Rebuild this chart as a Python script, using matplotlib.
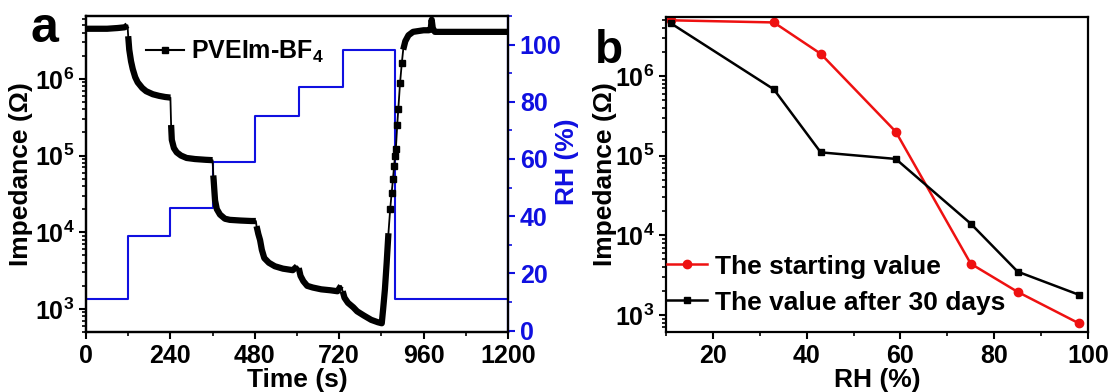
import numpy as np
import matplotlib
matplotlib.use('Agg')
import matplotlib.pyplot as plt
from matplotlib.lines import Line2D
from matplotlib.ticker import MultipleLocator, LogLocator

plt.rcParams['font.family'] = ['Liberation Sans', 'DejaVu Sans']
plt.rcParams['font.weight'] = 'bold'
plt.rcParams['mathtext.fontset'] = 'custom'
plt.rcParams['mathtext.rm'] = 'Liberation Sans:bold'
plt.rcParams['mathtext.bf'] = 'Liberation Sans:bold'
plt.rcParams['mathtext.default'] = 'bf'

# --- panel a: impedance response vs time, stepped RH ---
rh_time = [0, 120, 240, 360, 480, 605, 730, 880, 1200]
rh_level = [11, 33, 43, 59, 75, 85, 98, 11, 11]

seg_t = [
    [0, 30, 60, 90, 110, 118],
    [120, 123, 128, 133, 140, 147, 160, 171, 190, 208, 225, 240],
    [242, 244, 250, 258, 270, 286, 310, 340, 360],
    [362, 363, 365, 367, 372, 381, 395, 409, 440, 470, 483],
    [485, 490, 495, 500, 507, 520, 537, 560, 588, 600],
    [605, 610, 618, 629, 645, 669, 695, 715, 725],
    [730, 735, 745, 760, 771, 790, 811, 830, 841, 845, 850, 855, 860],
    [902, 908, 917, 930, 945, 960, 975, 980, 983, 986, 992, 1020, 1060, 1100, 1150, 1200],
]
seg_z = [
    [4.5e6, 4.5e6, 4.5e6, 4.6e6, 4.7e6, 5.0e6],
    [3.6e6, 2.4e6, 1.7e6, 1.34e6, 1.05e6, 9e5, 7.6e5, 6.9e5, 6.3e5, 6.0e5, 5.8e5, 5.7e5],
    [2.5e5, 1.6e5, 1.25e5, 1.1e5, 1.0e5, 9.3e4, 9.0e4, 8.8e4, 8.7e4],
    [5.5e4, 4.8e4, 3.5e4, 2.6e4, 2.0e4, 1.7e4, 1.5e4, 1.45e4, 1.42e4, 1.4e4, 1.4e4],
    [1.2e4, 9.5e3, 7.9e3, 5.9e3, 4.6e3, 4.0e3, 3.6e3, 3.35e3, 3.2e3, 3.6e3],
    [3.4e3, 2.7e3, 2.3e3, 2.0e3, 1.9e3, 1.8e3, 1.75e3, 1.7e3, 2.0e3],
    [1.7e3, 1.4e3, 1.2e3, 1.05e3, 930, 820, 720, 670, 650, 1.0e3, 1.8e3, 4.0e3, 9.7e3],
    [2.4e6, 3.1e6, 3.7e6, 4.1e6, 4.2e6, 4.3e6, 4.3e6, 4.4e6, 5.9e6, 4.6e6, 4.1e6, 4.1e6, 4.1e6, 4.1e6, 4.1e6, 4.1e6],
]
# sparse points on the recovery edge
rise_t = [865, 869, 873, 876, 879, 881, 885, 888, 893, 898]
rise_z = [2.0e4, 3.2e4, 5e4, 7.2e4, 1e5, 1.2e5, 2.5e5, 4e5, 8.8e5, 1.6e6]

# --- panel b: impedance vs RH, fresh and aged ---
rh = [11, 33, 43, 59, 75, 85, 98]
z_start = [5.0e6, 4.7e6, 1.9e6, 2.0e5, 4.4e3, 1.95e3, 7.9e2]
z_30days = [4.6e6, 6.8e5, 1.1e5, 9.1e4, 1.4e4, 3.5e3, 1.8e3]

W, H = 1113, 392
fig = plt.figure(figsize=(W / 100, H / 100), dpi=100)

ax1 = fig.add_axes([86 / W, 1 - 332 / H, (508 - 86) / W, (332 - 16) / H])
ax2 = ax1.twinx()
axb = fig.add_axes([666 / W, 1 - 332 / H, (1088 - 666) / W, (332 - 17) / H])

FS = 18
LFS = 19
BLUE = '#1010e0'

# black impedance trace: thin connector, thick dense runs, squares on the edge
all_t = sum(seg_t[:7], []) + rise_t + seg_t[7]
all_z = sum(seg_z[:7], []) + rise_z + seg_z[7]
ax1.plot(all_t, all_z, color='black', lw=1.3, zorder=3)
for t, z in zip(seg_t, seg_z):
    ax1.plot(t, z, color='black', lw=4.5, solid_capstyle='butt',
             solid_joinstyle='round', zorder=3)
ax1.plot(rise_t, rise_z, 's', color='black', ms=4, zorder=3)

ax1.set_yscale('log')
ax1.set_xlim(0, 1200)
ax1.set_ylim(500, 6.6e6)
ax1.xaxis.set_major_locator(MultipleLocator(240))
ax1.xaxis.set_minor_locator(MultipleLocator(120))
ax1.yaxis.set_major_locator(LogLocator(base=10, numticks=10))
ax1.yaxis.set_minor_locator(LogLocator(base=10, subs=np.arange(2, 10), numticks=20))
ax1.set_xlabel('Time (s)', fontsize=LFS, fontweight='bold', labelpad=0)
ax1.set_ylabel('Impedance (Ω)', fontsize=LFS, fontweight='bold', labelpad=1)

ax2.plot(rh_time, rh_level, drawstyle='steps-post', color=BLUE, lw=1.5, zorder=2)
ax2.set_ylim(-0.5, 110)
ax2.yaxis.set_major_locator(MultipleLocator(20))
ax2.yaxis.set_minor_locator(MultipleLocator(10))
ax2.set_ylabel('RH (%)', fontsize=LFS, fontweight='bold', color=BLUE)
ax2.yaxis.set_label_coords(1.112, 0.54)
ax2.tick_params(axis='y', which='both', colors=BLUE, labelcolor=BLUE)
ax1.set_zorder(ax2.get_zorder() + 1)
ax1.patch.set_visible(False)

ax1.legend(handles=[Line2D([], [], color='black', lw=1.5, marker='s', ms=4)],
           labels=['PVEIm-BF$_4$'], loc='upper left',
           bbox_to_anchor=(0.09, 1.0), frameon=False, fontsize=FS,
           handlelength=1.5, handletextpad=0.3)

fig.text(30 / W, 1 - 6 / H, 'a', fontsize=36, fontweight='bold', va='top', ha='left')

# panel b
axb.plot(rh, z_start, color='#ee1111', lw=1.8, marker='o', ms=6, label='The starting value')
axb.plot(rh, z_30days, color='black', lw=1.8, marker='s', ms=5, label='The value after 30 days')
axb.set_yscale('log')
axb.set_xlim(10, 100)
axb.set_ylim(612, 5.5e6)
axb.xaxis.set_major_locator(MultipleLocator(20))
axb.xaxis.set_minor_locator(MultipleLocator(10))
axb.yaxis.set_major_locator(LogLocator(base=10, numticks=10))
axb.yaxis.set_minor_locator(LogLocator(base=10, subs=np.arange(2, 10), numticks=20))
axb.set_xlabel('RH (%)', fontsize=LFS, fontweight='bold', labelpad=0)
axb.set_ylabel('Impedance (Ω)', fontsize=LFS, fontweight='bold', labelpad=-2)
axb.legend(loc='lower left', bbox_to_anchor=(-0.055, -0.02), frameon=False, fontsize=LFS,
           handlelength=1.55, handletextpad=0.3, labelspacing=0.45)

fig.text(595 / W, 1 - 29 / H, 'b', fontsize=33, fontweight='bold', va='top', ha='left')

for ax in (ax1, ax2, axb):
    for s in ax.spines.values():
        s.set_linewidth(1.6)
    ax.tick_params(which='major', direction='out', length=5, width=1.5, labelsize=FS)
    ax.tick_params(which='minor', direction='out', length=3, width=1.2)
    for lab in ax.get_xticklabels() + ax.get_yticklabels():
        lab.set_fontweight('bold')
ax2.spines['right'].set_color(BLUE)

fig.savefig('out.png', dpi=100)
